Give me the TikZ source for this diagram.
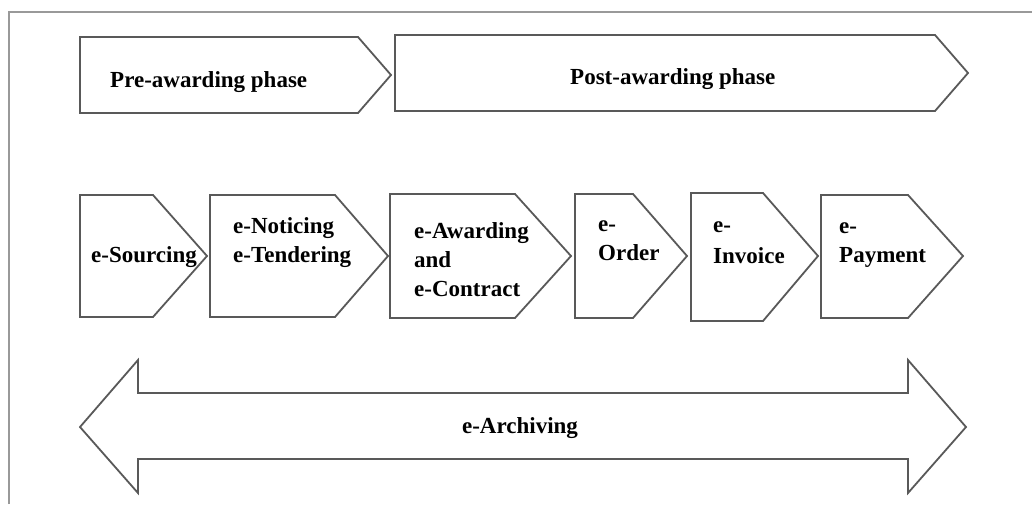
\documentclass[tikz,border=0pt]{standalone}
\usepackage{fontspec}
\setmainfont{Liberation Serif}
\begin{document}
\begin{tikzpicture}[x=1pt,y=-1pt,
  shp/.style={draw=black!65, line width=1.8pt, line join=miter, fill=white},
  frm/.style={draw=black!40, line width=1.5pt},
  lbl/.style={inner sep=0pt, anchor=base west, font=\fontsize{23}{29}\selectfont\bfseries, text=black}]
\useasboundingbox (0,0) rectangle (1032,504);
% frame
\draw[frm] (9,504) -- (9,12) -- (1032,12);
% top row
\draw[shp] (80,37) -- (358,37) -- (391,75) -- (358,113) -- (80,113) -- cycle;
\draw[shp] (395,35) -- (935,35) -- (968,73) -- (935,111) -- (395,111) -- cycle;
\node[lbl] (pre) at (110,87) {Pre-awarding phase};
\node[lbl] (post) at (570,84) {Post-awarding phase};
% middle row
\draw[shp] (80,195) -- (153,195) -- (207,256) -- (153,317) -- (80,317) -- cycle;
\draw[shp] (210,195) -- (335,195) -- (388,256) -- (335,317) -- (210,317) -- cycle;
\draw[shp] (390,194) -- (515,194) -- (571,256) -- (515,318) -- (390,318) -- cycle;
\draw[shp] (575,194) -- (633,194) -- (687,256) -- (633,318) -- (575,318) -- cycle;
\draw[shp] (691,193) -- (763,193) -- (818,256) -- (763,321) -- (691,321) -- cycle;
\draw[shp] (821,195) -- (908,195) -- (963,256) -- (908,318) -- (821,318) -- cycle;
\node[lbl] (src) at (91,262) {e-Sourcing};
\node[lbl] (not) at (233,233) {e-Noticing};
\node[lbl] (ten) at (233,262) {e-Tendering};
\node[lbl] (aw1) at (414,238) {e-Awarding};
\node[lbl] (aw2) at (414,267) {and};
\node[lbl] (aw3) at (414,296) {e-Contract};
\node[lbl] (or1) at (598,231) {e-};
\node[lbl] (or2) at (598,260) {Order};
\node[lbl] (in1) at (713,232) {e-};
\node[lbl] (in2) at (713,263) {Invoice};
\node[lbl] (pa1) at (839,233) {e-};
\node[lbl] (pa2) at (839,262) {Payment};
% bottom double arrow
\draw[shp] (80,427) -- (138,360) -- (138,393) -- (908,393) -- (908,360) -- (966,427)
  -- (908,493) -- (908,459) -- (138,459) -- (138,493) -- cycle;
\node[lbl, anchor=center] (arch) at (520,428) {e-Archiving};
\end{tikzpicture}
\end{document}
